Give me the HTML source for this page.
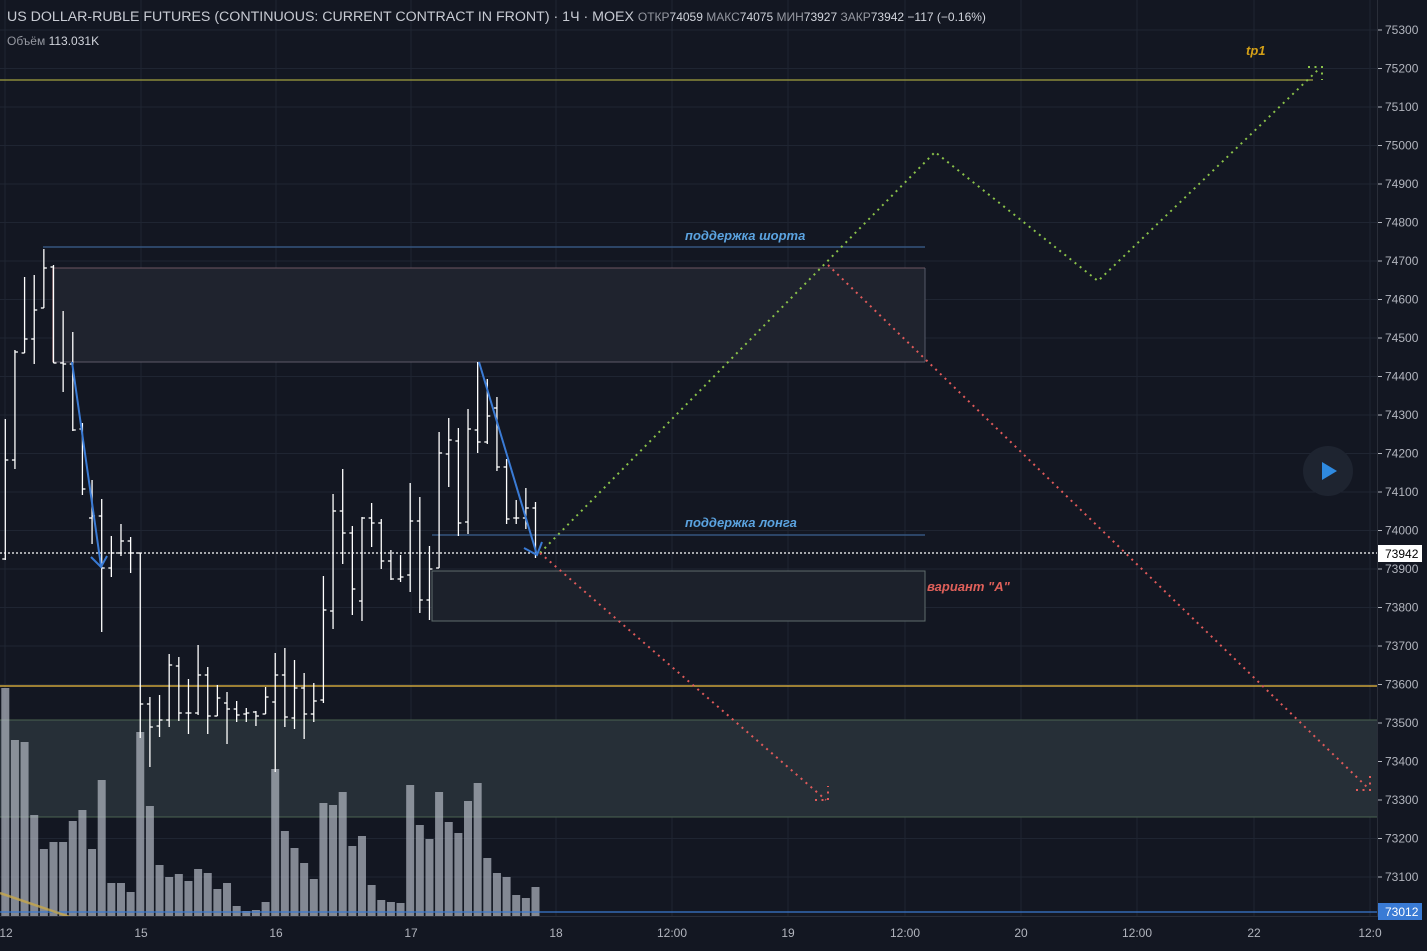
<!DOCTYPE html>
<html><head><meta charset="utf-8"><style>
html,body{margin:0;padding:0;background:#131722;}
body{width:1427px;height:946px;overflow:hidden;font-family:"Liberation Sans","DejaVu Sans",sans-serif;}
svg text{font-family:"Liberation Sans","DejaVu Sans",sans-serif;}
</style></head><body>
<svg id="s" width="1427" height="946" xmlns="http://www.w3.org/2000/svg">
<rect width="1427" height="946" fill="#131722"/>
<g id="grid" stroke="#1f2532" stroke-width="1"></g>
<rect x="0" y="720" width="1377" height="97" fill="#262f37" stroke="none"/>
<line x1="0" y1="720" x2="1377" y2="720" stroke="#4b6350"/>
<line x1="0" y1="817" x2="1377" y2="817" stroke="#4b6350"/>
<g id="vol"></g>
<rect x="53" y="268" width="872" height="94" fill="#1f232e"/>
<line x1="53" y1="268" x2="925" y2="268" stroke="#6e5560"/>
<line x1="53" y1="362" x2="925" y2="362" stroke="#5e5a68"/>
<line x1="53" y1="268" x2="53" y2="362" stroke="#e8a0a0"/>
<line x1="925" y1="268" x2="925" y2="362" stroke="#555a68"/>
<rect x="432" y="571" width="493" height="50" fill="#1c212b" stroke="#5f6c6c"/>
<line x1="43" y1="247" x2="925" y2="247" stroke="#34557e" stroke-width="1.5"/>
<line x1="432" y1="535" x2="925" y2="535" stroke="#34557e" stroke-width="1.5"/>
<line x1="0" y1="80" x2="1313" y2="80" stroke="#8a8a3a" stroke-width="1.5"/>
<line x1="0" y1="686" x2="1377" y2="686" stroke="#f0c040" stroke-width="1.2"/>
<line x1="0" y1="912" x2="1377" y2="912" stroke="#3a78d0" stroke-width="1.2"/>
<line x1="0" y1="893" x2="70" y2="917" stroke="#c8a84a" stroke-width="2.5" opacity="0.8"/>
<line x1="0" y1="553" x2="1377" y2="553" stroke="#ffffff" stroke-width="1.2" stroke-dasharray="2,2"/>
<g id="ohlc" stroke="#ffffff" stroke-width="1.3"></g>
<g stroke="#3a7bd5" stroke-width="2" fill="none">
<line x1="72" y1="362" x2="101" y2="566"/><polyline points="91,557 101,567 107,556"/>
<line x1="479" y1="362" x2="537" y2="555"/><polyline points="524,548 537,555 542,542"/>
</g>
<g fill="none" stroke-width="2" stroke-dasharray="2,4.5">
<polyline stroke="#8bc34a" points="540,553 935,152 1098,281 1320,68"/>
<polyline stroke="#8bc34a" points="1308,67 1322,67 1322,80"/>
<polyline stroke="#e05a5a" points="540,553 826,800"/>
<polyline stroke="#e05a5a" points="815,800 828,800 828,786"/>
<polyline stroke="#e05a5a" points="828,265 1370,790"/>
<polyline stroke="#e05a5a" points="1356,790 1370,790 1370,776"/>
</g>
<text x="685" y="240" fill="#5ba3e0" font-size="13" font-style="italic" font-weight="bold">поддержка шорта</text>
<text x="685" y="527" fill="#5ba3e0" font-size="13" font-style="italic" font-weight="bold">поддержка лонга</text>
<text x="927" y="591" fill="#e0605a" font-size="13" font-style="italic" font-weight="bold">вариант "А"</text>
<text x="1246" y="55" fill="#d4a017" font-size="13" font-style="italic" font-weight="bold">tp1</text>
<circle cx="1328" cy="471" r="25" fill="#1e2430"/>
<polygon points="1322,462 1322,480 1337,471" fill="#2f8ae0"/>
<rect x="1378" y="0" width="49" height="946" fill="#131722"/>
<line x1="1377.5" y1="0" x2="1377.5" y2="946" stroke="#2a2e39"/>
<rect x="0" y="917" width="1378" height="29" fill="#131722"/>
<line x1="0" y1="916.5" x2="1378" y2="916.5" stroke="#2a2e39"/>
<g id="pax" fill="#b2b5be" font-size="12"></g>
<g fill="#b2b5be" font-size="12" text-anchor="middle">
<text x="6" y="937">12</text><text x="141" y="937">15</text><text x="276" y="937">16</text><text x="411" y="937">17</text><text x="556" y="937">18</text><text x="672" y="937">12:00</text><text x="788" y="937">19</text><text x="905" y="937">12:00</text><text x="1021" y="937">20</text><text x="1137" y="937">12:00</text><text x="1254" y="937">22</text><text x="1370" y="937">12:0</text>
</g>
<rect x="1378" y="545" width="44" height="17" fill="#ffffff"/>
<text x="1385" y="558" fill="#000" font-size="12">73942</text>
<rect x="1378" y="903" width="44" height="17" fill="#3a7bd5"/>
<text x="1385" y="916" fill="#fff" font-size="12">73012</text>
<text x="7" y="21" fill="#c8cbd3" font-size="14.2">US DOLLAR-RUBLE FUTURES (CONTINUOUS: CURRENT CONTRACT IN FRONT) · 1Ч · MOEX <tspan font-size="12" fill="#9598a1">ОТКР</tspan><tspan font-size="12" fill="#d1d4dc">74059 </tspan><tspan font-size="12" fill="#9598a1">МАКС</tspan><tspan font-size="12" fill="#d1d4dc">74075 </tspan><tspan font-size="12" fill="#9598a1">МИН</tspan><tspan font-size="12" fill="#d1d4dc">73927 </tspan><tspan font-size="12" fill="#9598a1">ЗАКР</tspan><tspan font-size="12" fill="#d1d4dc">73942 −117 (−0.16%)</tspan></text>
<text x="7" y="45" fill="#9598a1" font-size="12">Объём <tspan fill="#d1d4dc">113.031K</tspan></text>
</svg>
<script>
var NS="http://www.w3.org/2000/svg";
function el(p,t,a){var e=document.createElementNS(NS,t);for(var k in a)e.setAttribute(k,a[k]);p.appendChild(e);return e;}
var g=document.getElementById('grid'),pax=document.getElementById('pax');
for(var p=75300;p>=73100;p-=100){var y=30+(75300-p)*0.385;el(g,'line',{x1:0,y1:y,x2:1377,y2:y});
 var t=el(pax,'text',{x:1385,y:y+4});t.textContent=p;el(pax,'line',{x1:1378,y1:y,x2:1382,y2:y,stroke:'#b2b5be'});}
[5,141,276,411,556,672,788,905,1021,1137,1254,1370].forEach(function(x){el(g,'line',{x1:x,y1:0,x2:x,y2:917});});
var vt=[688,740,742,815,849,842,842,821,810,849,780,883,883,892,732,806,865,877,874,881,869,873,889,883,906,911,910,902,769,831,848,863,879,803,805,792,846,836,885,900,902,903,785,825,839,792,822,833,801,783,858,873,877,895,898,887];
var v=document.getElementById('vol');
vt.forEach(function(y,i){var c=5.3+9.64*i;el(v,'rect',{x:c-4,y:y,width:8,height:917-y,fill:'rgba(180,185,195,0.7)'});});
var d=[[419,560,559,460],[350,469,460,352],[277,353,353,339],[275,364,339,310],[249,308,308,268],[265,363,267,363],[311,392,363,364],[332,431,364,430],[423,495,429,489],[480,544,518,516],[499,632,516,568],[536,577,568,553],[524,556,553,541],[537,573,541,553],[553,738,553,704],[697,767,704,727],[695,737,726,720],[654,727,720,665],[657,721,666,713],[679,734,713,713],[645,715,713,675],[667,734,675,716],[685,716,716,698],[692,744,703,709],[701,722,709,715],[708,722,714,713],[711,726,712,716],[687,714,714,697],[653,772,702,675],[648,727,675,717],[660,729,718,688],[673,739,688,714],[683,722,714,701],[576,703,700,610],[494,629,611,511],[469,564,511,533],[526,615,533,589],[517,621,601,518],[503,547,518,523],[519,569,523,561],[550,580,561,579],[555,582,579,577],[483,592,575,521],[497,613,521,600],[546,620,600,569],[432,568,568,453],[418,487,454,440],[428,536,441,523],[409,534,522,429],[362,453,430,442],[379,444,442,416],[397,471,408,467],[459,524,467,519],[500,524,518,518],[488,529,518,508],[502,558,508,553]];
var o=document.getElementById('ohlc');
d.forEach(function(b,i){var c=5.3+9.64*i;el(o,'line',{x1:c,y1:b[0],x2:c,y2:b[1]});el(o,'line',{x1:c-3,y1:b[2],x2:c,y2:b[2]});el(o,'line',{x1:c,y1:b[3],x2:c+3,y2:b[3]});});
</script>
</body></html>
